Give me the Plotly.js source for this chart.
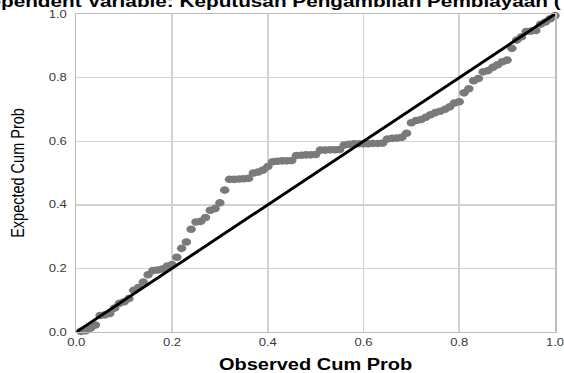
<!DOCTYPE html>
<html>
<head>
<meta charset="utf-8">
<script src="https://cdn.plot.ly/plotly-3.0.1.min.js"></script>
<style>
  html, body { margin: 0; padding: 0; overflow: hidden; background: #fff; }
  #wrap { width: 564px; height: 373px; overflow: hidden; position: relative; }
  #plot { width: 451px; height: 373px; transform: scaleX(1.25); transform-origin: 0 0; }
</style>
</head>
<body>
<div id="wrap"><div id="plot"></div></div>
<script>
// Observed cumulative probability (x) and expected cumulative probability (y)
const observedCumProb = [
  0.01,0.02,0.03,0.04,0.05,0.06,0.07,0.08,0.09,0.10,
  0.11,0.12,0.13,0.14,0.15,0.16,0.17,0.18,0.19,0.20,
  0.21,0.22,0.23,0.24,0.25,0.26,0.27,0.28,0.29,0.30,
  0.31,0.32,0.33,0.34,0.35,0.36,0.37,0.38,0.39,0.40,
  0.41,0.42,0.43,0.44,0.45,0.46,0.47,0.48,0.49,0.50,
  0.51,0.52,0.53,0.54,0.55,0.56,0.57,0.58,0.59,0.60,
  0.61,0.62,0.63,0.64,0.65,0.66,0.67,0.68,0.69,0.70,
  0.71,0.72,0.73,0.74,0.75,0.76,0.77,0.78,0.79,0.80,
  0.81,0.82,0.83,0.84,0.85,0.86,0.87,0.88,0.89,0.90,
  0.91,0.92,0.93,0.94,0.95,0.96,0.97,0.98,0.99,1.00
];
const expectedCumProb = [
  0.002,0.004,0.012,0.022,0.052,0.054,0.058,0.075,0.090,0.095,
  0.105,0.131,0.140,0.157,0.180,0.193,0.195,0.198,0.207,0.212,
  0.235,0.263,0.283,0.323,0.346,0.348,0.360,0.383,0.388,0.406,
  0.446,0.480,0.480,0.481,0.482,0.483,0.500,0.503,0.509,0.520,
  0.535,0.537,0.538,0.538,0.539,0.555,0.556,0.557,0.557,0.558,
  0.572,0.572,0.573,0.573,0.574,0.588,0.590,0.592,0.592,0.592,
  0.592,0.593,0.593,0.594,0.607,0.609,0.610,0.612,0.625,0.658,
  0.665,0.668,0.675,0.683,0.690,0.694,0.700,0.708,0.720,0.724,
  0.752,0.765,0.790,0.797,0.818,0.822,0.832,0.840,0.850,0.855,
  0.892,0.918,0.928,0.945,0.946,0.948,0.968,0.975,0.985,0.995
];
const refLineX = [0, 1];
const refLineY = [0, 1];
const tickVals = [0, 0.2, 0.4, 0.6, 0.8, 1.0];
const tickText = ["0.0", "0.2", "0.4", "0.6", "0.8", "1.0"];
const titleText = "Dependent Variable: Keputusan Pengambilan Pembiayaan (Y)";
const xTitle = "Observed Cum Prob";
const yTitle = "Expected Cum Prob";

const FONT = "Liberation Sans, Arial, Helvetica, sans-serif";

const traces = [
  {
    x: observedCumProb, y: expectedCumProb,
    type: "scatter", mode: "markers",
    marker: { color: "#7a7a7a", size: 7.6, line: { width: 0 } },
    cliponaxis: false, hoverinfo: "skip"
  },
  {
    x: refLineX, y: refLineY,
    type: "scatter", mode: "lines",
    line: { color: "#000000", width: 2.7 },
    cliponaxis: false, hoverinfo: "skip"
  }
];

const axisCommon = {
  range: [0, 1],
  tickmode: "array",
  tickvals: tickVals,
  ticktext: tickText,
  showgrid: true,
  gridcolor: "#d2d2d2",
  gridwidth: 1.4,
  zeroline: false,
  showline: true,
  mirror: true,
  linecolor: "#bdbdbd",
  linewidth: 1.4,
  ticks: "",
  ticklabeloverflow: "allow",
  tickfont: { family: FONT, size: 10.5, color: "#3a3a3a" },
  fixedrange: true
};

const layout = {
  width: 451, height: 373,
  margin: { l: 61, r: 7, t: 14, b: 41, pad: 0 },
  paper_bgcolor: "#ffffff",
  plot_bgcolor: "#ffffff",
  showlegend: false,
  title: {
    text: titleText,
    font: { family: FONT, size: 16.6, color: "#000000", weight: "bold" },
    xref: "container", x: 0.493, xanchor: "center",
    yref: "container", y: 1 - 1.5/373, yanchor: "middle"
  },
  xaxis: Object.assign({}, axisCommon, {
    title: { text: xTitle, standoff: 13,
      font: { family: FONT, size: 16, color: "#000000", weight: "bold" } }
  }),
  yaxis: Object.assign({}, axisCommon, {
    ticklabelstandoff: 4,
    title: { text: yTitle, standoff: 15,
      font: { family: FONT, size: 14.5, color: "#000000" } }
  })
};

Plotly.newPlot("plot", traces, layout, { displayModeBar: false, staticPlot: true });
</script>
</body>
</html>
